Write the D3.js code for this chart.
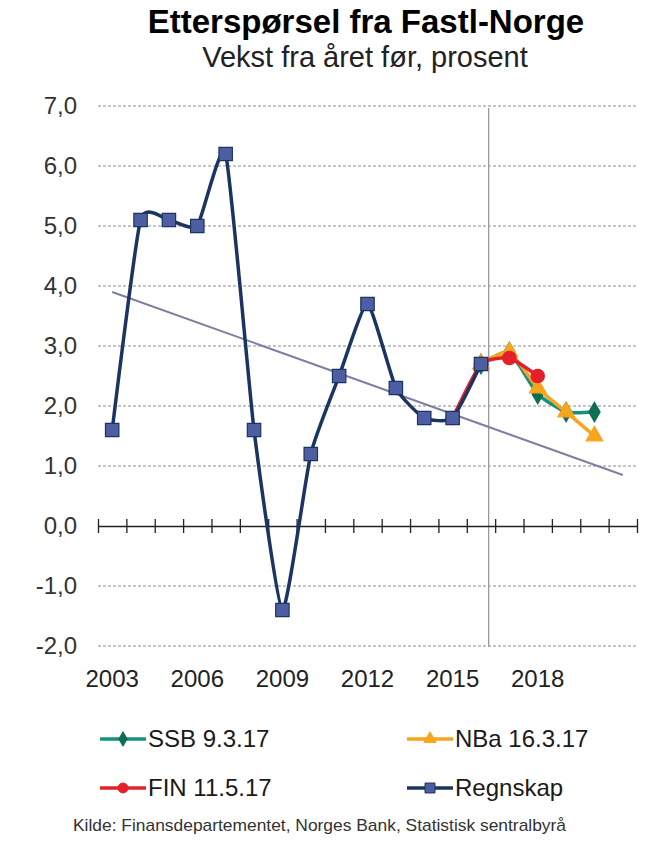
<!DOCTYPE html>
<html><head><meta charset="utf-8">
<script src="https://cdn.jsdelivr.net/npm/d3@7"></script>
<style>
body{margin:0;background:#fff}
svg{display:block}
text{font-family:"Liberation Sans",Arial,sans-serif;fill:#1a1a1a}
</style>
</head><body>
<svg id="c" width="653" height="864"></svg>
<script>
// ---- data ----
const categories = [2003,2004,2005,2006,2007,2008,2009,2010,2011,2012,2013,2014,2015,2016,2017,2018,2019,2020,2021];
const regnskapYears = [2003,2004,2005,2006,2007,2008,2009,2010,2011,2012,2013,2014,2015,2016];
const regnskap = [1.6,5.1,5.1,5.0,6.2,1.6,-1.4,1.2,2.5,3.7,2.3,1.8,1.8,2.7];
const ssbYears = [2016,2017,2018,2019,2020];
const ssb = [2.7,2.9,2.2,1.9,1.9];
const nbaYears = [2016,2017,2018,2019,2020];
const nba = [2.7,2.9,2.3,1.9,1.5];
const finYears = [2015,2016,2017,2018];
const fin = [1.8,2.7,2.8,2.5];
const trendYears = [2003,2021];
const trend = [3.9,0.85];
const splitYear = 2016.27;
const yTicks = [-2,-1,0,1,2,3,4,5,6,7];
const xTickLabels = [2003,2006,2009,2012,2015,2018];
const title = "Etterspørsel fra Fastl-Norge";
const subtitle = "Vekst fra året før, prosent";
const source = "Kilde: Finansdepartementet,  Norges Bank, Statistisk sentralbyrå";

const svg = d3.select("#c");
svg.append("rect").attr("width",653).attr("height",864).attr("fill","#fff");

const x = d3.scaleLinear().domain([categories[0]-0.5, categories[categories.length-1]+0.5]).range([98,637]);
const y = d3.scaleLinear().domain([-2,7]).range([646,106]);

// titles
svg.append("text").attr("x",366).attr("y",33).attr("text-anchor","middle")
  .style("font-size","33px").style("font-weight","bold").style("fill","#000").text(title);
svg.append("text").attr("x",365).attr("y",67).attr("text-anchor","middle")
  .style("font-size","29px").style("fill","#222").text(subtitle);

// gridlines
svg.append("g").selectAll("line").data(yTicks.filter(d=>d!==0)).join("line")
  .attr("x1",x.range()[0]).attr("x2",x.range()[1])
  .attr("y1",d=>y(d)).attr("y2",d=>y(d))
  .attr("stroke","#8c8c8c").attr("stroke-width",1.2).attr("stroke-dasharray","3,2");

// y labels
svg.append("g").selectAll("text").data(yTicks).join("text")
  .attr("x",77).attr("y",d=>y(d)).attr("dy","0.35em").attr("text-anchor","end")
  .style("font-size","24px").style("fill","#333")
  .text(d=>d3.format(".1f")(d).replace(".",",").replace("−","-"));

// vertical split line
svg.append("line").attr("x1",x(splitYear)).attr("x2",x(splitYear))
  .attr("y1",y(7)+2).attr("y2",y(-2)+1).attr("stroke","#9a9a9a").attr("stroke-width",1.3);

// zero axis
const axisG = svg.append("g").attr("transform",`translate(0,${y(0)})`);
axisG.call(d3.axisBottom(x).tickValues(d3.range(categories.length+1).map(i=>categories[0]-0.5+i)).tickSize(0).tickFormat(""));
axisG.select(".domain").attr("stroke","#222").attr("stroke-width",1.5);
axisG.selectAll(".tick line").remove();
axisG.selectAll(".tick").append("line").attr("y1",-7).attr("y2",7).attr("stroke","#222").attr("stroke-width",1.3);

// x labels
svg.append("g").selectAll("text").data(xTickLabels).join("text")
  .attr("x",d=>x(d)).attr("y",687).attr("text-anchor","middle")
  .style("font-size","24px").style("fill","#222").text(d=>d);

// trend line
const trendPts = trendYears.map((yr,i)=>[yr,trend[i]]);
svg.append("path").datum(trendPts)
  .attr("d",d3.line().x(d=>x(d[0])).y(d=>y(d[1])))
  .attr("fill","none").attr("stroke","#7f7fa3").attr("stroke-width",2);

const curve = d3.curveCardinal.tension(0.5);
const lineGen = d3.line().x(d=>x(d[0])).y(d=>y(d[1])).curve(curve);

const series = [
  {name:"SSB 9.3.17", yrs:ssbYears, vals:ssb, color:"#16917f", mfill:"#0d6e54", marker:"diamond"},
  {name:"NBa 16.3.17", yrs:nbaYears, vals:nba, color:"#f7a51e", mfill:"#f7a51e", marker:"triangle"},
  {name:"FIN 11.5.17", yrs:finYears, vals:fin, color:"#e5202a", mfill:"#e5202a", marker:"circle"},
  {name:"Regnskap", yrs:regnskapYears, vals:regnskap, color:"#1b3562", mfill:"#4d5ea3", marker:"square"}
];
const symType = {diamond:d3.symbolDiamond, triangle:d3.symbolTriangle, circle:d3.symbolCircle, square:d3.symbolSquare};
const symSize = {diamond:110, triangle:120, circle:140, square:180};

series.forEach(s=>{
  const pts = s.yrs.map((yr,i)=>[yr,s.vals[i]]);
  const g = svg.append("g");
  g.append("path").datum(pts).attr("d",lineGen)
    .attr("fill","none").attr("stroke",s.color).attr("stroke-width",3.5).attr("stroke-linejoin","round");
  g.selectAll("path.m").data(pts).join("path").attr("class","m")
    .attr("transform",d=>`translate(${x(d[0])},${y(d[1])})`)
    .attr("d",d3.symbol().type(symType[s.marker]).size(symSize[s.marker]))
    .attr("fill",s.mfill).attr("stroke",s.marker==="square"?"#1b3562":s.mfill).attr("stroke-width",1.2);
});

// legend
const legendPos = [[100,739],[407,739],[100,788],[407,788]];
series.forEach((s,i)=>{
  const [lx,ly] = legendPos[i];
  const g = svg.append("g").attr("transform",`translate(${lx},${ly})`);
  g.append("line").attr("x1",0).attr("x2",46).attr("stroke",s.color).attr("stroke-width",3.5);
  g.append("path").attr("transform","translate(23,0)")
    .attr("d",d3.symbol().type(symType[s.marker]).size(symSize[s.marker]*0.55))
    .attr("fill",s.mfill).attr("stroke",s.marker==="square"?"#1b3562":s.mfill);
  g.append("text").attr("x",48).attr("y",8).style("font-size","24px").style("fill","#1a1a1a").text(s.name);
});

svg.append("text").attr("x",73).attr("y",831).style("font-size","17px").style("fill","#333")
  .attr("textLength",493).attr("lengthAdjust","spacingAndGlyphs").text(source);
</script>
</body></html>
